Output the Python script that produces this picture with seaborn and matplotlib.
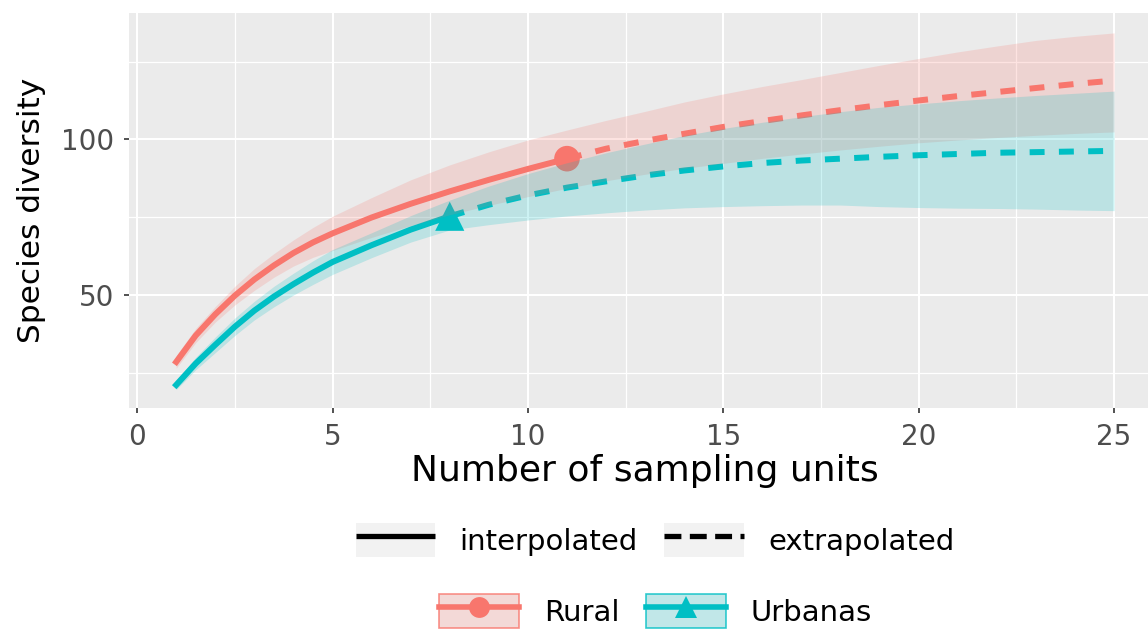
import matplotlib
matplotlib.use("Agg")
import matplotlib.pyplot as plt
import seaborn as sns
import pandas as pd
from matplotlib.patches import Rectangle
from matplotlib.lines import Line2D
from matplotlib.legend_handler import HandlerTuple
from matplotlib.colors import to_rgba

# ---------------- data ----------------
sites = ["Rural", "Urbanas"]
units = [1, 1.5, 2, 2.5, 3, 3.5, 4, 4.5, 5, 6, 7, 8, 9, 10, 11, 12, 13, 14,
         15, 16, 17, 18, 19, 20, 21, 22, 23, 24, 25]
observed_units = {"Rural": 11, "Urbanas": 8}

rural_qd = [28.5, 37.0, 43.8, 49.8, 55.0, 59.5, 63.5, 66.9, 69.8,
            74.9, 79.3, 83.3, 87.0, 90.5, 93.8,
            97.0, 99.5, 101.8, 104.0, 105.9, 107.7, 109.4, 111.0, 112.5, 113.9,
            115.2, 116.5, 117.8, 118.9]
rural_lo = [26.5, 34.7, 41.3, 46.8, 51.5, 55.7, 59.3, 62.1, 64.3,
            68.5, 72.3, 75.8, 78.8, 81.6, 84.3,
            86.7, 88.8, 90.7, 92.3, 93.9, 95.3, 96.6, 97.8, 98.9, 99.8,
            100.6, 101.3, 101.9, 102.4]
rural_hi = [30.5, 39.3, 46.3, 52.8, 58.5, 63.3, 67.7, 71.7, 75.3,
            81.3, 87.0, 91.8, 96.0, 99.8, 103.0,
            106.1, 109.0, 112.0, 114.6, 117.0, 119.2, 121.5, 123.8, 126.0, 128.1,
            130.0, 131.8, 133.1, 134.2]

urban_qd = [21.1, 28.0, 34.0, 39.8, 45.0, 49.5, 53.5, 57.2, 60.6,
            66.0, 71.0, 75.3, 79.0, 82.0, 84.5,
            86.5, 88.4, 90.0, 91.3, 92.4, 93.2, 93.8, 94.4, 94.9, 95.3,
            95.7, 95.9, 96.1, 96.3]
urban_lo = [19.6, 26.0, 31.5, 37.0, 42.0, 46.2, 50.0, 53.4, 56.6,
            62.0, 67.0, 70.9, 72.6, 74.1, 75.4,
            76.4, 77.3, 78.0, 78.4, 78.7, 78.9, 78.9, 78.4, 78.1, 77.9,
            77.8, 77.6, 77.3, 77.1]
urban_hi = [22.6, 30.0, 36.5, 42.6, 48.0, 52.8, 57.0, 61.0, 64.6,
            70.0, 75.5, 80.5, 85.0, 89.0, 92.5,
            95.7, 98.5, 101.2, 103.5, 105.5, 107.3, 108.9, 110.3, 111.4, 112.4,
            113.3, 114.1, 114.8, 115.5]

method_labels = ["interpolated", "extrapolated"]
x_ticks = [0, 5, 10, 15, 20, 25]
y_ticks = [50, 100]

# ---------------- style ----------------
RED = "#F8766D"
TEAL = "#00BFC4"
palette = {"Rural": RED, "Urbanas": TEAL}
plt.rcParams["font.family"] = ["DejaVu Sans"]

series = {
    "Rural": (rural_qd, rural_lo, rural_hi),
    "Urbanas": (urban_qd, urban_lo, urban_hi),
}

rows = []
pts = []
for s in sites:
    qd = series[s][0]
    obs = observed_units[s]
    for t, v in zip(units, qd):
        if t <= obs:
            rows.append({"site": s, "t": t, "qd": v, "method": "interpolated"})
        if t >= obs:
            rows.append({"site": s, "t": t, "qd": v, "method": "extrapolated"})
        if t == obs:
            pts.append({"site": s, "t": t, "qd": v})
df = pd.DataFrame(rows)
pts_df = pd.DataFrame(pts)

W, H = 1148, 630
fig = plt.figure(figsize=(W / 100, H / 100), dpi=100)
fig.patch.set_facecolor("white")

left_px, right_px, top_px, bottom_px = 129.3, 1161.0, 13.3, 408.0
ax = fig.add_axes([left_px / W, (H - bottom_px) / H,
                   (right_px - left_px) / W, (bottom_px - top_px) / H])
ax.set_facecolor("#EBEBEB")
for sp in ax.spines.values():
    sp.set_visible(False)

DASH = (2.5, 2.4)
sns.lineplot(data=df, x="t", y="qd", hue="site", style="method",
             palette=palette,
             dashes={"interpolated": "", "extrapolated": DASH},
             linewidth=4.3, estimator=None, legend=False, ax=ax, zorder=2)
for ln in ax.get_lines():
    ln.set_solid_joinstyle("round")

sns.scatterplot(data=pts_df, x="t", y="qd", hue="site", style="site",
                size="site", sizes={"Rural": 340, "Urbanas": 440},
                markers={"Rural": "o", "Urbanas": "^"}, palette=palette,
                linewidth=0, legend=False, ax=ax, zorder=2.5)

for s in sites:
    qd, lo, hi = series[s]
    ax.fill_between(units, lo, hi, color=palette[s], alpha=0.2, lw=0, zorder=3)

ax.set_xlim(-0.2, 26.2)
ax.set_ylim(13.7, 140.5)
ax.set_xticks(x_ticks)
ax.set_xticks([2.5, 7.5, 12.5, 17.5, 22.5], minor=True)
ax.set_yticks(y_ticks)
ax.set_yticks([25, 75, 125], minor=True)
ax.grid(which="major", color="white", linewidth=1.5)
ax.grid(which="minor", color="white", linewidth=0.9)
ax.set_axisbelow(True)
ax.tick_params(which="major", length=3.6, width=1.2, color="#333333",
               labelcolor="#4D4D4D", labelsize=20, pad=7.0)
ax.tick_params(which="minor", length=0)

ax.set_xlabel("Number of sampling units", fontsize=26, color="black", va="center")
ax.set_ylabel("Species diversity", fontsize=22.5, color="black", va="center")
ax.xaxis.set_label_coords(0.5, -0.16)
ax.yaxis.set_label_coords(-0.0946, 0.5)

# ---------------- legends ----------------
KEYBG = "#F2F2F2"
def keybg():
    return Rectangle((0, 0), 1, 1, facecolor=KEYBG, edgecolor="none")

h1 = [(keybg(), Line2D([], [], color="black", lw=3.8, solid_capstyle="butt")),
      (keybg(), Line2D([], [], color="black", lw=3.8, dashes=(3.2, 1.6)))]
leg1 = fig.legend(h1, method_labels, loc="center",
                  bbox_to_anchor=(655 / W, 1 - 540 / H), ncol=2, frameon=False,
                  fontsize=21, handlelength=2.74, handleheight=1.4,
                  handletextpad=0.82, columnspacing=0.92, borderpad=0,
                  borderaxespad=0,
                  handler_map={tuple: HandlerTuple(ndivide=1, pad=0)})

h2 = []
for s, m, ms in [("Rural", "o", 15), ("Urbanas", "^", 16)]:
    c = palette[s]
    h2.append((keybg(),
               Rectangle((0, 0), 1, 1, facecolor=to_rgba(c, 0.2),
                         edgecolor=to_rgba(c, 0.8), linewidth=1.2),
               Line2D([], [], color=c, lw=4.0, marker=m, markersize=ms,
                      markeredgewidth=0)))
leg2 = fig.legend(h2, sites, loc="center",
                  bbox_to_anchor=(655.5 / W, 1 - 611 / H), ncol=2, frameon=False,
                  fontsize=21, handlelength=2.74, handleheight=1.4,
                  handletextpad=0.85, columnspacing=0.9, borderpad=0,
                  borderaxespad=0, numpoints=1,
                  handler_map={tuple: HandlerTuple(ndivide=1, pad=0)})

fig.savefig("out.png", dpi=100, facecolor="white")
